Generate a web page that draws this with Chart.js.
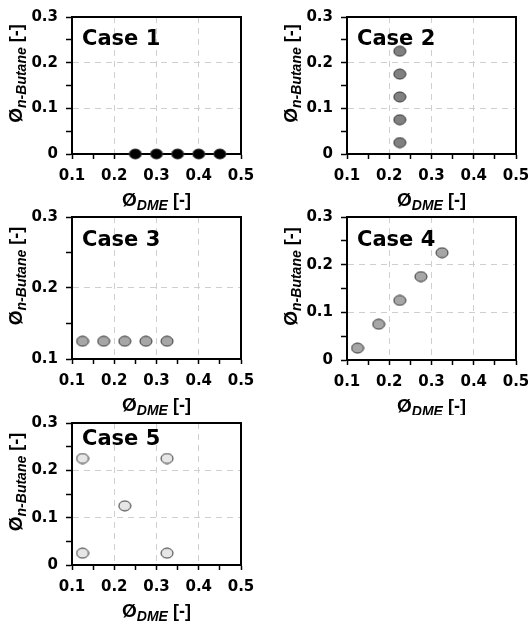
<!DOCTYPE html>
<html>
<head>
<meta charset="utf-8">
<script src="https://cdn.jsdelivr.net/npm/chart.js@4.4.1/dist/chart.umd.min.js"></script>
<style>
  html, body { margin: 0; padding: 0; background: #fff; }
  body { width: 528px; height: 628px; overflow: hidden; position: relative; }
  canvas { position: absolute; }
</style>
</head>
<body>
<canvas id="c1"></canvas>
<canvas id="c2"></canvas>
<canvas id="c3"></canvas>
<canvas id="c4"></canvas>
<canvas id="c5"></canvas>
<script>
// data, one pair of arrays per case
const case1X = [0.25, 0.3, 0.35, 0.4, 0.45];
const case1Y = [0, 0, 0, 0, 0];
const case2X = [0.225, 0.225, 0.225, 0.225, 0.225];
const case2Y = [0.025, 0.075, 0.125, 0.175, 0.225];
const case3X = [0.125, 0.175, 0.225, 0.275, 0.325];
const case3Y = [0.125, 0.125, 0.125, 0.125, 0.125];
const case4X = [0.125, 0.175, 0.225, 0.275, 0.325];
const case4Y = [0.025, 0.075, 0.125, 0.175, 0.225];
const case5X = [0.125, 0.125, 0.225, 0.325, 0.325];
const case5Y = [0.025, 0.225, 0.125, 0.025, 0.225];

const caseNames = ["Case 1", "Case 2", "Case 3", "Case 4", "Case 5"];
const xTickLabels = ["0.1", "0.2", "0.3", "0.4", "0.5"];
const yTickLabels = ["0", "0.1", "0.2", "0.3"];
const yTickLabelsCase3 = ["0.1", "0.2", "0.3"];
const xTitleParts = ["Ø", "DME", " [-]"];
const yTitleParts = ["Ø", "n-Butane", " [-]"];

const FONT = '"DejaVu Sans", sans-serif';
const TFONT = '"Liberation Sans", Arial, sans-serif';

// ellipse marker image
function makeDot(fill) {
  const c = document.createElement("canvas");
  c.width = 14; c.height = 12;
  const g = c.getContext("2d");
  g.beginPath();
  g.ellipse(7, 6, 6, 5, 0, 0, Math.PI * 2);
  g.fillStyle = fill;
  g.fill();
  g.lineWidth = 1;
  g.strokeStyle = "#333";
  g.stroke();
  return c;
}

function isMajor(v) {
  return Math.abs(Math.round(v * 10) - v * 10) < 1e-6;
}

function tickLabel(v, labels) {
  if (!isMajor(v)) return "";
  const hit = labels.find((l) => Math.abs(parseFloat(l) - v) < 1e-6);
  return hit === undefined ? "" : hit;
}

function drawRich(ctx, parts, cx, y) {
  const styles = [
    { font: "bold 19px " + TFONT, dy: 0 },
    { font: "italic bold 14px " + TFONT, dy: 4 },
    { font: "bold 18px " + TFONT, dy: 0 },
  ];
  let total = 0;
  parts.forEach((t, i) => { ctx.font = styles[i].font; total += ctx.measureText(t).width; });
  let x = cx - total / 2;
  ctx.textAlign = "left";
  ctx.textBaseline = "alphabetic";
  parts.forEach((t, i) => {
    ctx.font = styles[i].font;
    ctx.fillText(t, x, y + styles[i].dy);
    x += ctx.measureText(t).width;
  });
}

const decor = {
  id: "decor",
  beforeDatasetsDraw(chart) {
    const { ctx, chartArea: a } = chart;
    ctx.save();
    ctx.strokeStyle = "#000";
    ctx.lineWidth = 2;
    ctx.strokeRect(a.left, a.top, a.right - a.left, a.bottom - a.top);
    ctx.restore();
  },
  afterDraw(chart, args, opts) {
    const { ctx, chartArea: a } = chart;
    ctx.save();
    ctx.fillStyle = "#000";
    ctx.font = "bold 21px " + FONT;
    ctx.textAlign = "left";
    ctx.textBaseline = "alphabetic";
    ctx.fillText(opts.label, a.left + 10, a.top + opts.labelY);
    drawRich(ctx, xTitleParts, (a.left + a.right) / 2, a.bottom + 52);
    ctx.translate(a.left - 50, (a.top + a.bottom) / 2 - 12);
    ctx.rotate(-Math.PI / 2);
    drawRich(ctx, yTitleParts, 0, 0);
    ctx.restore();
  },
};

function gridColor(c) {
  const v = c.tick ? c.tick.value : null;
  if (v === null || !isMajor(v)) return "transparent";
  if (Math.abs(v - c.scale.min) < 1e-6 || Math.abs(v - c.scale.max) < 1e-6) return "transparent";
  return "#cfcfcf";
}

const panels = [
  { id: "c1", left: 0, top: 0, w: 264, h: 215, pl: 72, pr: 241, pt: 11, pb: 154, xs: case1X, ys: case1Y, fill: "#000000", ymin: 0, yl: yTickLabels, labelY: 28 },
  { id: "c2", left: 264, top: 0, w: 300, h: 215, pl: 83, pr: 252, pt: 12, pb: 154, xs: case2X, ys: case2Y, fill: "#808080", ymin: 0, yl: yTickLabels, labelY: 28 },
  { id: "c3", left: 0, top: 200, w: 264, h: 215, pl: 72, pr: 241, pt: 16, pb: 159, xs: case3X, ys: case3Y, fill: "#a6a6a6", ymin: 0.1, yl: yTickLabelsCase3, labelY: 29 },
  { id: "c4", left: 264, top: 200, w: 300, h: 215, pl: 83, pr: 252, pt: 16, pb: 160, xs: case4X, ys: case4Y, fill: "#a6a6a6", ymin: 0, yl: yTickLabels, labelY: 29 },
  { id: "c5", left: 0, top: 400, w: 264, h: 228, pl: 72, pr: 241, pt: 23, pb: 165, xs: case5X, ys: case5Y, fill: "#e6e6e6", ymin: 0, yl: yTickLabels, labelY: 22 },
];

Chart.defaults.font.family = FONT;
Chart.defaults.font.weight = "bold";
Chart.defaults.font.size = 15;
Chart.defaults.color = "#000";

panels.forEach((p, i) => {
  const el = document.getElementById(p.id);
  el.width = p.w; el.height = p.h;
  el.style.left = p.left + "px";
  el.style.top = p.top + "px";
  new Chart(el, {
    type: "scatter",
    data: {
      datasets: [{
        data: p.xs.map((x, k) => ({ x, y: p.ys[k] })),
        pointStyle: makeDot(p.fill),
        pointRadius: 6,
        clip: false,
      }],
    },
    options: {
      responsive: false,
      animation: false,
      events: [],
      devicePixelRatio: 1,
      layout: { padding: { top: p.pt, right: p.w - p.pr, left: 0, bottom: 0 } },
      plugins: {
        legend: { display: false },
        tooltip: { enabled: false },
        decor: { label: caseNames[i], labelY: p.labelY },
      },
      scales: {
        x: {
          type: "linear", min: 0.1, max: 0.5,
          afterFit: (s) => { s.height = p.h - p.pb; },
          ticks: { stepSize: 0.05, autoSkip: false, maxRotation: 0, padding: 8,
            callback: (v) => tickLabel(v, xTickLabels) },
          grid: { color: gridColor, lineWidth: 1, drawTicks: true, tickLength: 5, tickColor: "#000", tickWidth: 1.5 },
          border: { display: true, color: "#000", width: 2, dash: [6, 5] },
        },
        y: {
          type: "linear", min: p.ymin, max: 0.3,
          afterFit: (s) => { s.width = p.pl; },
          ticks: { stepSize: 0.05, autoSkip: false, padding: 8,
            callback: (v) => tickLabel(v, p.yl) },
          grid: { color: gridColor, lineWidth: 1, drawTicks: true, tickLength: 6, tickColor: "#000", tickWidth: 1.5 },
          border: { display: true, color: "#000", width: 2, dash: [6, 5] },
        },
      },
    },
    plugins: [decor],
  });
});
</script>
</body>
</html>
